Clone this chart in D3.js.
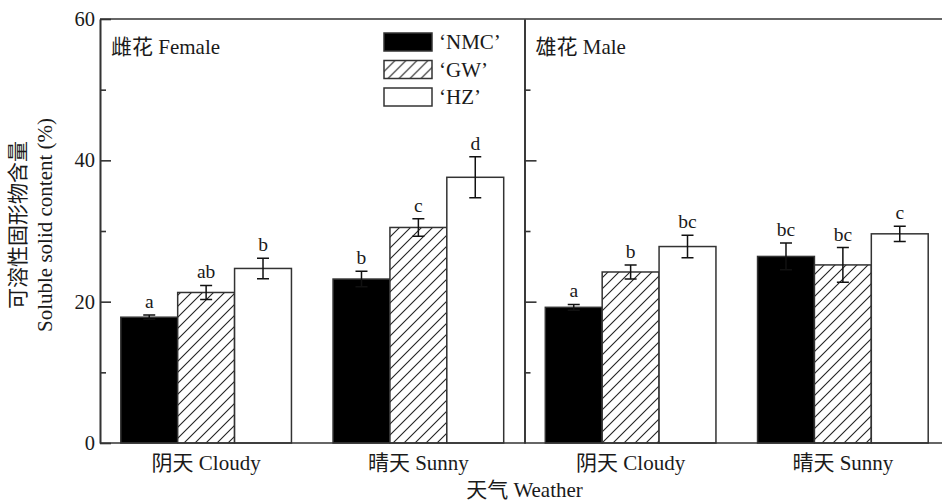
<!DOCTYPE html>
<html><head><meta charset="utf-8">
<script src="https://cdn.jsdelivr.net/npm/d3@7"></script>
<style>
html,body{margin:0;padding:0;background:#fff;}
svg{display:block;}
text{font-family:"Liberation Serif","Times New Roman","Noto Sans CJK SC",serif;fill:#1a1a1a;}
</style></head>
<body>
<svg id="chart" width="942" height="503"></svg>
<script>
// ---- data ----
const panels = ["雌花 Female", "雄花 Male"];
const weather = ["阴天 Cloudy", "晴天 Sunny"];
const cultivars = ["‘NMC’", "‘GW’", "‘HZ’"];
// order: Female-Cloudy, Female-Sunny, Male-Cloudy, Male-Sunny
const groupLabels = ["阴天 Cloudy", "晴天 Sunny", "阴天 Cloudy", "晴天 Sunny"];
const nmcValues = [17.8, 23.2, 19.2, 26.4];
const gwValues  = [21.3, 30.5, 24.2, 25.2];
const hzValues  = [24.7, 37.6, 27.8, 29.6];
const nmcErrors = [0.3, 1.1, 0.4, 1.9];
const gwErrors  = [1.0, 1.25, 1.0, 2.45];
const hzErrors  = [1.45, 2.9, 1.6, 1.07];
const nmcLetters = ["a", "b", "a", "bc"];
const gwLetters  = ["ab", "c", "b", "bc"];
const hzLetters  = ["b", "d", "bc", "c"];
const yMajorTicks = [0, 20, 40, 60];
const yMinorTicks = [10, 30, 50];
const yTitle = ["可溶性固形物含量", "Soluble solid content (%)"];
const xTitle = "天气 Weather";

const seriesValues = [nmcValues, gwValues, hzValues];
const seriesErrors = [nmcErrors, gwErrors, hzErrors];
const seriesLetters = [nmcLetters, gwLetters, hzLetters];

(function draw() {
// ---- layout ----
const svg = d3.select("#chart");
const mLeft = 100, mTop = 19, mBottom = 443, mRight = 942;
const stroke = "#333";
const fs = 21;

const x = d3.scaleBand().domain(d3.range(4)).range([mLeft, 949])
  .paddingInner(0.196).paddingOuter(0.098);
const xs = d3.scaleBand().domain(cultivars).range([0, x.bandwidth()]).padding(0);
const y = d3.scaleLinear().domain([0, 60]).range([mBottom, mTop]);
const divider = mLeft + 2 * x.step();

// hatch pattern
const defs = svg.append("defs");
const pat = defs.append("pattern").attr("id", "hatch")
  .attr("patternUnits", "userSpaceOnUse").attr("width", 11).attr("height", 11);
pat.append("rect").attr("width", 11).attr("height", 11).attr("fill", "#fff");
pat.append("path").attr("d", "M-3,3 L3,-3 M0,11 L11,0 M8,14 L14,8")
  .attr("stroke", "#222").attr("stroke-width", 1.1);
const fills = ["#000", "url(#hatch)", "#fff"];

// bars
const data = [];
seriesValues.forEach((vals, s) => vals.forEach((v, g) => data.push({
  g, s, v, e: seriesErrors[s][g], l: seriesLetters[s][g]
})));

const bars = svg.append("g");
bars.selectAll("rect").data(data).join("rect")
  .attr("x", d => x(d.g) + xs(cultivars[d.s]))
  .attr("y", d => y(d.v))
  .attr("width", xs.bandwidth())
  .attr("height", d => y(0) - y(d.v))
  .attr("fill", d => fills[d.s])
  .attr("stroke", stroke).attr("stroke-width", 1.5);

// error bars
const eb = svg.append("g").attr("stroke", "#111").attr("stroke-width", 1.5).attr("fill", "none");
const cx = d => x(d.g) + xs(cultivars[d.s]) + xs.bandwidth() / 2;
const cap = 6;
eb.selectAll("path").data(data).join("path")
  .attr("d", d => {
    const c = cx(d), t = y(d.v + d.e), b = y(d.v - d.e);
    return `M${c},${t}V${b}M${c - cap},${t}H${c + cap}M${c - cap},${b}H${c + cap}`;
  });

// significance letters
svg.append("g").selectAll("text").data(data).join("text")
  .attr("x", cx).attr("y", d => y(d.v + d.e) - 7)
  .attr("text-anchor", "middle").attr("font-size", 19.5)
  .text(d => d.l);

// frame
const frame = svg.append("g").attr("stroke", stroke).attr("stroke-width", 1.6).attr("fill", "none");
frame.append("line").attr("x1", mLeft).attr("x2", mRight).attr("y1", mTop).attr("y2", mTop);
frame.append("line").attr("x1", mLeft).attr("x2", mRight).attr("y1", mBottom).attr("y2", mBottom);

// y axes
function styleAxis(g) {
  g.selectAll("path,line").attr("stroke", stroke).attr("stroke-width", 1.6);
  g.selectAll("text").attr("font-size", 20.5).attr("fill", "#1a1a1a")
    .attr("font-family", "Liberation Serif, Times New Roman, serif");
}
svg.append("g").attr("transform", `translate(${mLeft},0)`)
  .call(d3.axisLeft(y).tickValues(yMajorTicks).tickSize(-11).tickSizeOuter(0).tickPadding(5).tickFormat(d3.format("d")))
  .call(styleAxis);
svg.append("g").attr("transform", `translate(${mLeft},0)`)
  .call(d3.axisLeft(y).tickValues(yMinorTicks).tickSize(-6).tickSizeOuter(0).tickFormat(""))
  .call(styleAxis);
svg.append("g").attr("transform", `translate(${divider},0)`)
  .call(d3.axisLeft(y).tickValues(yMajorTicks.slice(1, 3)).tickSize(-12).tickSizeOuter(0).tickFormat(""))
  .call(styleAxis);
svg.append("g").attr("transform", `translate(${divider},0)`)
  .call(d3.axisLeft(y).tickValues(yMinorTicks).tickSize(-6).tickSizeOuter(0).tickFormat(""))
  .call(styleAxis);

// x category labels
svg.append("g").selectAll("text").data(groupLabels).join("text")
  .attr("x", (d, i) => x(i) + x.bandwidth() / 2).attr("y", 470)
  .attr("text-anchor", "middle").attr("font-size", fs).text(d => d);

// x title
svg.append("text").attr("x", divider).attr("y", 497).attr("text-anchor", "middle")
  .attr("font-size", fs).text(xTitle);

// y title
const yt = svg.append("text").attr("transform", `translate(25,225) rotate(-90)`)
  .attr("text-anchor", "middle").attr("font-size", fs);
yt.append("tspan").attr("x", 0).attr("y", 0).text(yTitle[0]);
yt.append("tspan").attr("x", 0).attr("y", 27).text(yTitle[1]);

// panel labels
svg.append("g").selectAll("text").data(panels).join("text")
  .attr("x", (d, i) => (i === 0 ? mLeft : divider) + 11).attr("y", 54)
  .attr("font-size", fs).text(d => d);

// legend
const lg = svg.append("g").attr("transform", "translate(384,33)");
const li = lg.selectAll("g").data(cultivars).join("g")
  .attr("transform", (d, i) => `translate(0,${i * 27.5})`);
li.append("rect").attr("width", 48).attr("height", 18)
  .attr("fill", (d, i) => fills[i]).attr("stroke", stroke).attr("stroke-width", 1.5);
li.append("text").attr("x", 55).attr("y", 16).attr("font-size", fs).text(d => d);
})();
</script>
</body></html>
